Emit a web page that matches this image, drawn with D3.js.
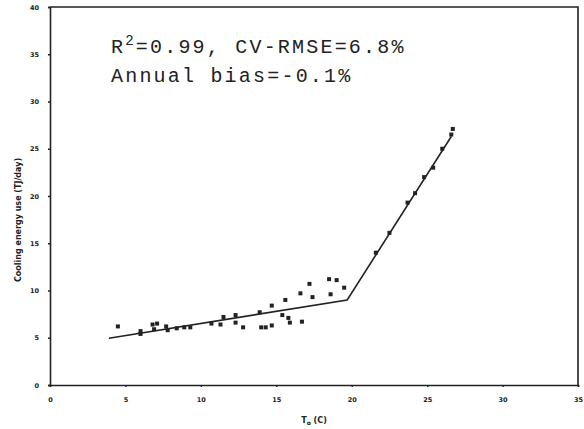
<!DOCTYPE html>
<html>
<head>
<meta charset="utf-8">
<script src="https://cdn.jsdelivr.net/npm/d3@7"></script>
<style>
  body { margin: 0; background: #fff; }
  .tick text { font-family: "DejaVu Sans", sans-serif; font-weight: bold; font-size: 6.5px; fill: #222; }
  .axis-label { font-family: "DejaVu Sans", sans-serif; font-weight: bold; font-size: 8px; fill: #222; }
  .stats { font-family: "Liberation Mono", monospace; font-size: 20px; letter-spacing: 2.2px; fill: #222; }
</style>
</head>
<body>
<div id="chart"></div>
<script>
// measured daily cooling energy use vs outdoor temperature
const measuredT = [4.5, 6.0, 6.0, 6.8, 7.1, 6.9, 7.7, 7.8, 8.4, 8.9, 9.3, 10.7, 11.3, 11.5,
  12.3, 12.3, 12.8, 13.9, 14.0, 14.3, 14.7, 15.4, 15.8, 15.9, 16.7,
  14.7, 15.6, 16.6, 17.2, 17.4, 18.5, 19.0, 18.6, 19.5,
  21.6, 22.5, 23.7, 24.2, 24.8, 25.4, 26.0, 26.7, 26.6];
const measuredE = [6.2, 5.7, 5.4, 6.4, 6.5, 5.9, 6.2, 5.8, 6.0, 6.1, 6.1, 6.5, 6.4, 7.2,
  7.4, 6.6, 6.1, 7.7, 6.1, 6.1, 6.3, 7.4, 7.1, 6.6, 6.7,
  8.4, 9.0, 9.7, 10.7, 9.3, 11.2, 11.1, 9.6, 10.3,
  14.0, 16.1, 19.3, 20.3, 22.0, 23.0, 25.0, 27.1, 26.5];

// fitted change-point model (line vertices)
const modelT = [3.9, 19.7, 26.6];
const modelE = [4.95, 9.0, 26.3];

const xTicks = [0, 5, 10, 15, 20, 25, 30, 35];
const yTicks = [0, 5, 10, 15, 20, 25, 30, 35, 40];

const width = 584, height = 429;
const margin = { top: 7, right: 6, bottom: 44, left: 50 };
const innerW = width - margin.left - margin.right;
const innerH = height - margin.top - margin.bottom;

const svg = d3.select("#chart").append("svg")
  .attr("width", width)
  .attr("height", height);

const g = svg.append("g")
  .attr("transform", `translate(${margin.left},${margin.top})`);

const x = d3.scaleLinear().domain([0, 35]).range([0, innerW]);
const y = d3.scaleLinear().domain([0, 40]).range([innerH, 0]);

// axes
const xAxis = g.append("g")
  .attr("transform", `translate(0,${innerH})`)
  .call(d3.axisBottom(x).tickValues(xTicks).tickSize(2).tickPadding(10));
const yAxis = g.append("g")
  .call(d3.axisLeft(y).tickValues(yTicks).tickSize(2).tickPadding(9));

[xAxis, yAxis].forEach(a => {
  a.select(".domain").attr("stroke", "#222").attr("stroke-width", 1.6);
  a.selectAll(".tick line").attr("stroke", "#222").attr("stroke-width", 1.4);
});

// top and right frame
g.append("path")
  .attr("d", `M0,0H${innerW}V${innerH}`)
  .attr("fill", "none")
  .attr("stroke", "#222")
  .attr("stroke-width", 1.6);

// model line
const modelPts = modelT.map((t, i) => ({ t: t, e: modelE[i] }));
g.append("path")
  .datum(modelPts)
  .attr("fill", "none")
  .attr("stroke", "#222")
  .attr("stroke-width", 1.6)
  .attr("d", d3.line().x(d => x(d.t)).y(d => y(d.e)));

// measured points
const pts = measuredT.map((t, i) => ({ t: t, e: measuredE[i] }));
g.selectAll(".dot")
  .data(pts)
  .enter()
  .append("rect")
  .attr("class", "dot")
  .attr("x", d => x(d.t) - 2)
  .attr("y", d => y(d.e) - 2)
  .attr("width", 4)
  .attr("height", 4)
  .attr("fill", "#222");

// axis labels
g.append("text")
  .attr("class", "axis-label")
  .attr("transform", "rotate(-90)")
  .attr("x", -(220 - margin.top))
  .attr("y", 18 - margin.left + 3)
  .attr("text-anchor", "middle")
  .text("Cooling energy use (TJ/day)");

const xl = g.append("text")
  .attr("class", "axis-label")
  .attr("x", innerW / 2)
  .attr("y", innerH + 38)
  .attr("text-anchor", "middle");
xl.append("tspan").text("T");
xl.append("tspan").attr("font-size", "6px").attr("dy", 2).text("o");
xl.append("tspan").attr("dy", -2).text(" (C)");

// statistics text
const s1 = svg.append("text")
  .attr("class", "stats")
  .attr("x", 111)
  .attr("y", 53);
s1.append("tspan").text("R");
s1.append("tspan").attr("font-size", "14px").attr("dy", -8).text("2");
s1.append("tspan").attr("dy", 8).text("=0.99, CV-RMSE=6.8%");

svg.append("text")
  .attr("class", "stats")
  .attr("x", 111)
  .attr("y", 82)
  .text("Annual bias=-0.1%");
</script>
</body>
</html>
